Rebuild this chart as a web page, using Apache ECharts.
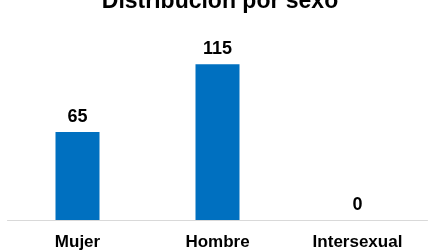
<!DOCTYPE html>
<html>
<head>
<meta charset="utf-8">
<script src="https://cdn.jsdelivr.net/npm/echarts@6/dist/echarts.min.js"></script>
<style>
  html, body { margin: 0; padding: 0; background: #fff; }
  #chart { width: 440px; height: 251px; }
</style>
</head>
<body>
<div id="chart"></div>
<script>
const categories = ['Mujer', 'Hombre', 'Intersexual']
const counts = [65, 115, 0]

const chart = echarts.init(document.getElementById('chart'))
chart.setOption({
  animation: false,
  title: {
    text: 'Distribución por sexo',
    left: 'center',
    top: -15,
    textStyle: {
      fontFamily: 'Liberation Sans',
      fontWeight: 'bold',
      fontSize: 23,
      color: '#000'
    }
  },
  grid: { left: 7.5, right: 12.5, top: 44, bottom: 29, containLabel: false },
  xAxis: {
    type: 'category',
    data: categories,
    axisLine: { lineStyle: { color: '#d9d9d9', width: 1 } },
    axisTick: { show: false },
    axisLabel: {
      margin: 14,
      fontFamily: 'Liberation Sans',
      fontWeight: 'bold',
      fontSize: 17,
      color: '#000'
    }
  },
  yAxis: {
    type: 'value',
    min: 0,
    max: 130,
    show: false,
    splitLine: { show: false }
  },
  series: [
    {
      type: 'bar',
      data: counts,
      barWidth: 44,
      itemStyle: { color: '#0070c0' },
      label: {
        show: true,
        position: 'top',
        distance: 6,
        fontFamily: 'Liberation Sans',
        fontWeight: 'bold',
        fontSize: 18,
        color: '#000'
      }
    }
  ]
})
</script>
</body>
</html>
